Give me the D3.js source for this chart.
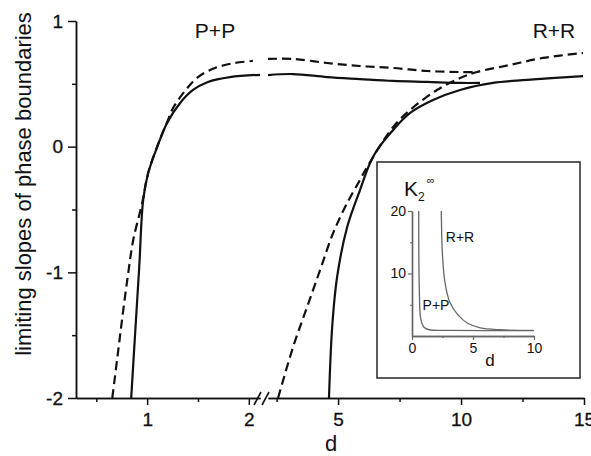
<!DOCTYPE html>
<html><head><meta charset="utf-8">
<script src="https://cdn.jsdelivr.net/npm/d3@7"></script>
<style>body{margin:0;background:#fff}svg{display:block}</style>
</head><body>
<svg id="c" width="591" height="456"></svg>
<script>
// ---- tick labels ----
const dTicksLeft = [1, 2];
const dMinorLeft = [0.5, 1.5];
const dTicksRight = [5, 10, 15];
const dMinorRight = [2.5, 7.5, 12.5];
const yTicks = [1, 0, -1, -2];
const yMinor = [0.5, -0.5, -1.5];
const insetXTicks = [0, 5, 10];
const insetXMinor = [2.5, 7.5];
const insetYTicks = [10, 20];
const insetYMinor = [5, 15];

// ---- series: [d, limiting slope] ----
const ppSolidLeft = [[0.843,-2.0],[0.882,-1.483],[0.922,-0.958],[0.961,-0.424],[1.010,-0.210],[1.098,-0.003],[1.196,0.188],[1.324,0.347],[1.451,0.451],[1.598,0.515],[1.814,0.554],[2.11,0.572]];
const ppDashedLeft = [[0.657,-2.0],[0.716,-1.618],[0.765,-1.300],[0.814,-1.005],[0.863,-0.743],[0.951,-0.448],[1.010,-0.210],[1.098,0.0],[1.196,0.195],[1.255,0.308],[1.373,0.445],[1.500,0.554],[1.667,0.626],[1.863,0.666],[2.04,0.682]];
const ppSolidRight = [[2.15,0.570],[3.17,0.578],[4.55,0.554],[5.89,0.538],[7.24,0.523],[8.62,0.515],[9.96,0.507],[10.77,0.507]];
const ppDashedRight = [[2.15,0.698],[3.17,0.698],[4.55,0.666],[5.89,0.642],[7.24,0.626],[8.62,0.602],[9.96,0.594],[10.65,0.594]];
const rrSolid = [[4.63,-2.0],[4.76,-1.435],[4.96,-1.037],[5.37,-0.639],[5.89,-0.345],[6.30,-0.130],[6.59,-0.026],[7.24,0.133],[7.93,0.268],[8.86,0.371],[9.96,0.451],[11.30,0.507],[12.68,0.531],[14.96,0.562]];
const rrDashed = [[2.56,-2.0],[3.17,-1.594],[3.74,-1.276],[4.27,-0.981],[4.80,-0.687],[5.37,-0.448],[5.89,-0.265],[6.18,-0.162],[7.24,0.157],[7.93,0.292],[9.02,0.451],[9.96,0.546],[10.65,0.594],[11.99,0.650],[13.33,0.706],[14.96,0.745]];

// ---- inset series: [d, K2 infinity] ----
const insetPP = [[0.55,20],[0.6,7.5],[0.72,2.7],[0.98,1.4],[1.4,1.0],[3,0.9],[10,0.85]];
const insetRR = [[2.4,20],[2.5,12.9],[2.7,8.6],[3.1,5.4],[3.8,3.3],[4.6,2.0],[5.6,1.3],[7.2,1.0],[9.9,0.9]];

const svg = d3.select("#c");
const FONT = "Arial, 'Liberation Sans', sans-serif";
const ink = "#111";
const fmt = d => d < 0 ? "-" + Math.abs(d) : String(d);

const xL = d3.scaleLinear().domain([0.3, 2.11]).range([76, 260]);
const xR = d3.scaleLinear().domain([2.15, 15]).range([268, 584]);
const y = d3.scaleLinear().domain([-2, 1]).range([398, 21]);

function styleAxis(g, fs) {
  g.selectAll("path.domain").attr("stroke", ink).attr("stroke-width", 1.5);
  g.selectAll(".tick line").attr("stroke", ink).attr("stroke-width", 1.5);
  g.selectAll(".tick text").attr("font-family", FONT).attr("font-size", fs).attr("fill", ink)
    .attr("stroke", ink).attr("stroke-width", 0.3);
}

// x axes (broken)
const gxl = svg.append("g").attr("transform", "translate(0,398)")
  .call(d3.axisBottom(xL).tickValues(dTicksLeft).tickSize(7).tickSizeOuter(0).tickPadding(8).tickFormat(fmt));
styleAxis(gxl, 19);
const gxlm = svg.append("g").attr("transform", "translate(0,398)")
  .call(d3.axisBottom(xL).tickValues(dMinorLeft).tickSize(4).tickSizeOuter(0).tickFormat(""));
styleAxis(gxlm, 19);
const gxr = svg.append("g").attr("transform", "translate(0,398)")
  .call(d3.axisBottom(xR).tickValues(dTicksRight).tickSize(7).tickSizeOuter(0).tickPadding(8).tickFormat(fmt));
styleAxis(gxr, 19);
const gxrm = svg.append("g").attr("transform", "translate(0,398)")
  .call(d3.axisBottom(xR).tickValues(dMinorRight).tickSize(4).tickSizeOuter(0).tickFormat(""));
styleAxis(gxrm, 19);

// break marks
const brk = svg.append("g").attr("stroke", ink).attr("stroke-width", 1.6);
brk.append("line").attr("x1", 254).attr("y1", 405).attr("x2", 261).attr("y2", 392);
brk.append("line").attr("x1", 262).attr("y1", 405).attr("x2", 269).attr("y2", 392);

// y axis
const gy = svg.append("g").attr("transform", "translate(76,0)")
  .call(d3.axisLeft(y).tickValues(yTicks).tickSize(8).tickSizeOuter(0).tickPadding(5).tickFormat(fmt));
styleAxis(gy, 19);
const gym = svg.append("g").attr("transform", "translate(76,0)")
  .call(d3.axisLeft(y).tickValues(yMinor).tickSize(4).tickSizeOuter(0).tickFormat(""));
styleAxis(gym, 19);

// axis titles
svg.append("text").attr("x", 331).attr("y", 451).attr("text-anchor", "middle")
  .attr("font-family", FONT).attr("font-size", 22).attr("fill", ink).text("d");
svg.append("text").attr("transform", "translate(31,184) rotate(-90)").attr("text-anchor", "middle")
  .attr("font-family", FONT).attr("font-size", 22).attr("fill", ink).text("limiting slopes of phase boundaries");

// curves
const lineL = d3.line().x(d => xL(d[0])).y(d => y(d[1])).curve(d3.curveCatmullRom.alpha(0.5));
const lineR = d3.line().x(d => xR(d[0])).y(d => y(d[1])).curve(d3.curveCatmullRom.alpha(0.5));
function draw(data, gen, dashed) {
  svg.append("path").attr("d", gen(data)).attr("fill", "none").attr("stroke", ink)
    .attr("stroke-width", 2.2).attr("stroke-dasharray", dashed ? "9,5" : null);
}
draw(ppDashedLeft, lineL, true);
draw(ppSolidLeft, lineL, false);
draw(ppDashedRight, lineR, true);
draw(ppSolidRight, lineR, false);
draw(rrDashed, lineR, true);
draw(rrSolid, lineR, false);

// series labels
svg.append("text").attr("x", 215).attr("y", 38).attr("text-anchor", "middle")
  .attr("font-family", FONT).attr("font-size", 21).attr("fill", ink).text("P+P");
svg.append("text").attr("x", 554).attr("y", 38).attr("text-anchor", "middle")
  .attr("font-family", FONT).attr("font-size", 21).attr("fill", ink).text("R+R");

// ---- inset ----
svg.append("rect").attr("x", 377).attr("y", 162).attr("width", 203).attr("height", 216)
  .attr("fill", "#fff").attr("stroke", "#333").attr("stroke-width", 1.6);
const ix = d3.scaleLinear().domain([0, 10]).range([412, 534]);
const iy = d3.scaleLinear().domain([0, 20]).range([336, 211]);
const gray = "#666";
function styleInset(g) {
  g.selectAll("path.domain").attr("stroke", gray).attr("stroke-width", 1.4);
  g.selectAll(".tick line").attr("stroke", gray).attr("stroke-width", 1.2);
  g.selectAll(".tick text").attr("font-family", FONT).attr("font-size", 14).attr("fill", ink);
}
const igx = svg.append("g").attr("transform", "translate(0,336)")
  .call(d3.axisBottom(ix).tickValues(insetXTicks).tickSize(4).tickSizeOuter(0).tickPadding(3).tickFormat(fmt));
styleInset(igx);
const igxm = svg.append("g").attr("transform", "translate(0,336)")
  .call(d3.axisBottom(ix).tickValues(insetXMinor).tickSize(2).tickSizeOuter(0).tickFormat(""));
styleInset(igxm);
const igy = svg.append("g").attr("transform", "translate(412,0)")
  .call(d3.axisLeft(iy).tickValues(insetYTicks).tickSize(4).tickSizeOuter(0).tickPadding(2).tickFormat(fmt));
styleInset(igy);
const igym = svg.append("g").attr("transform", "translate(412,0)")
  .call(d3.axisLeft(iy).tickValues(insetYMinor).tickSize(2).tickSizeOuter(0).tickFormat(""));
styleInset(igym);

const iline = d3.line().x(d => ix(d[0])).y(d => iy(d[1])).curve(d3.curveCatmullRom.alpha(0.5));
svg.append("path").attr("d", iline(insetPP)).attr("fill", "none").attr("stroke", gray).attr("stroke-width", 1.3);
svg.append("path").attr("d", iline(insetRR)).attr("fill", "none").attr("stroke", gray).attr("stroke-width", 1.3);

svg.append("text").attr("x", 436).attr("y", 310).attr("text-anchor", "middle")
  .attr("font-family", FONT).attr("font-size", 14).attr("fill", ink).text("P+P");
svg.append("text").attr("x", 460).attr("y", 242).attr("text-anchor", "middle")
  .attr("font-family", FONT).attr("font-size", 14).attr("fill", ink).text("R+R");
svg.append("text").attr("x", 490).attr("y", 366).attr("text-anchor", "middle")
  .attr("font-family", FONT).attr("font-size", 17).attr("fill", ink).text("d");
const kt = svg.append("text").attr("x", 404).attr("y", 196)
  .attr("font-family", FONT).attr("font-size", 21).attr("fill", ink);
kt.append("tspan").text("K");
kt.append("tspan").attr("font-size", 12).attr("dy", 5).text("2");
kt.append("tspan").attr("font-size", 11).attr("dx", 2).attr("dy", -17).text("\u221E");
</script>
</body></html>
